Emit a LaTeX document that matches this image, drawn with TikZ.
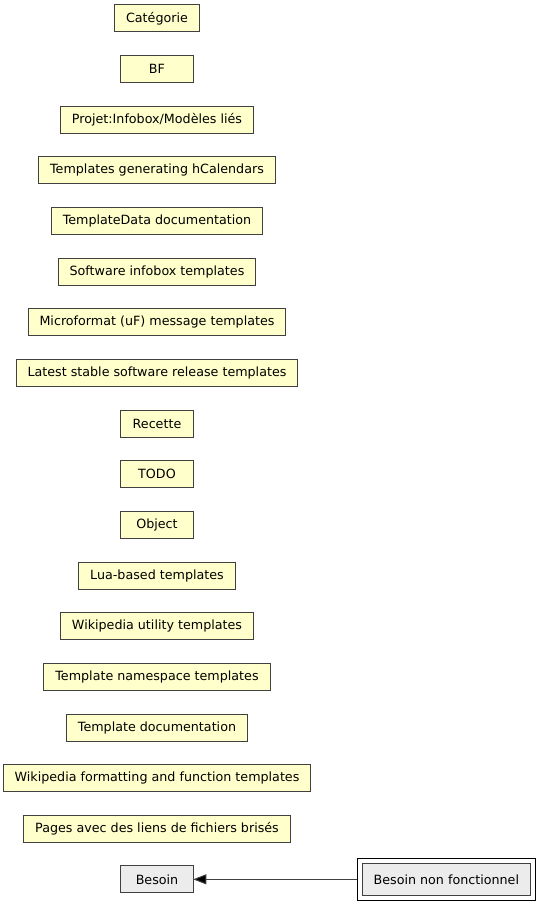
\documentclass[tikz,border=0pt]{standalone}
\usepackage{fontspec}
\setmainfont{DejaVu Sans}
\usetikzlibrary{arrows.meta}
\usetikzlibrary{fit}
\definecolor{catfill}{RGB}{255,255,204}
\definecolor{reqfill}{RGB}{236,236,236}
\definecolor{boxline}{RGB}{64,64,64}
\tikzset{
  cat/.style={draw=boxline, fill=catfill, line width=1pt, outer sep=0pt,
    minimum width=72.5pt, minimum height=27pt, inner xsep=11.5pt,
    font=\fontsize{12.7}{14}\selectfont},
  req/.style={cat, fill=reqfill},
  link/.style={draw=boxline, line width=1pt, -{Triangle[length=13pt,width=10pt,fill=black]}}
}
\newcommand{\catnode}[3]{\node[cat] (#1) at (157, #2) {#3};}

\begin{document}
\begin{tikzpicture}[x=1pt, y=-1pt]
        \useasboundingbox (0,0) rectangle (541,904);
        % categories
        \catnode{categorie}{18.5}{Catégorie}
        \catnode{bf}{69.15}{BF}
        \catnode{projet}{119.8}{Projet:Infobox/Modèles liés}
        \catnode{hcal}{170.45}{Templates generating hCalendars}
        \catnode{tdata}{221.1}{TemplateData documentation}
        \catnode{swinfo}{271.75}{Software infobox templates}
        \catnode{ufmsg}{322.4}{Microformat (uF) message templates}
        \catnode{latest}{373.05}{Latest stable software release templates}
        \catnode{recette}{423.7}{Recette}
        \catnode{todo}{474.35}{TODO}
        \catnode{object}{525.0}{Object}
        \catnode{lua}{575.65}{Lua-based templates}
        \catnode{wputil}{626.3}{Wikipedia utility templates}
        \catnode{tns}{676.95}{Template namespace templates}
        \catnode{tdoc}{727.6}{Template documentation}
        \catnode{wpfmt}{778.25}{Wikipedia formatting and function templates}
        \catnode{pages}{828.9}{Pages avec des liens de fichiers brisés}
        % besoins
        \node[req] (besoin) at (157, 879.3) {Besoin};
        \node[req, minimum height=32pt] (bnf) at (446.35, 879.3) {Besoin non fonctionnel};
        \node[draw=black, line width=1pt, outer sep=0pt, inner sep=4.7pt, fit=(bnf)] (bnfframe) {};
        \draw[link] (bnfframe) -- (besoin);
\end{tikzpicture}
\end{document}
